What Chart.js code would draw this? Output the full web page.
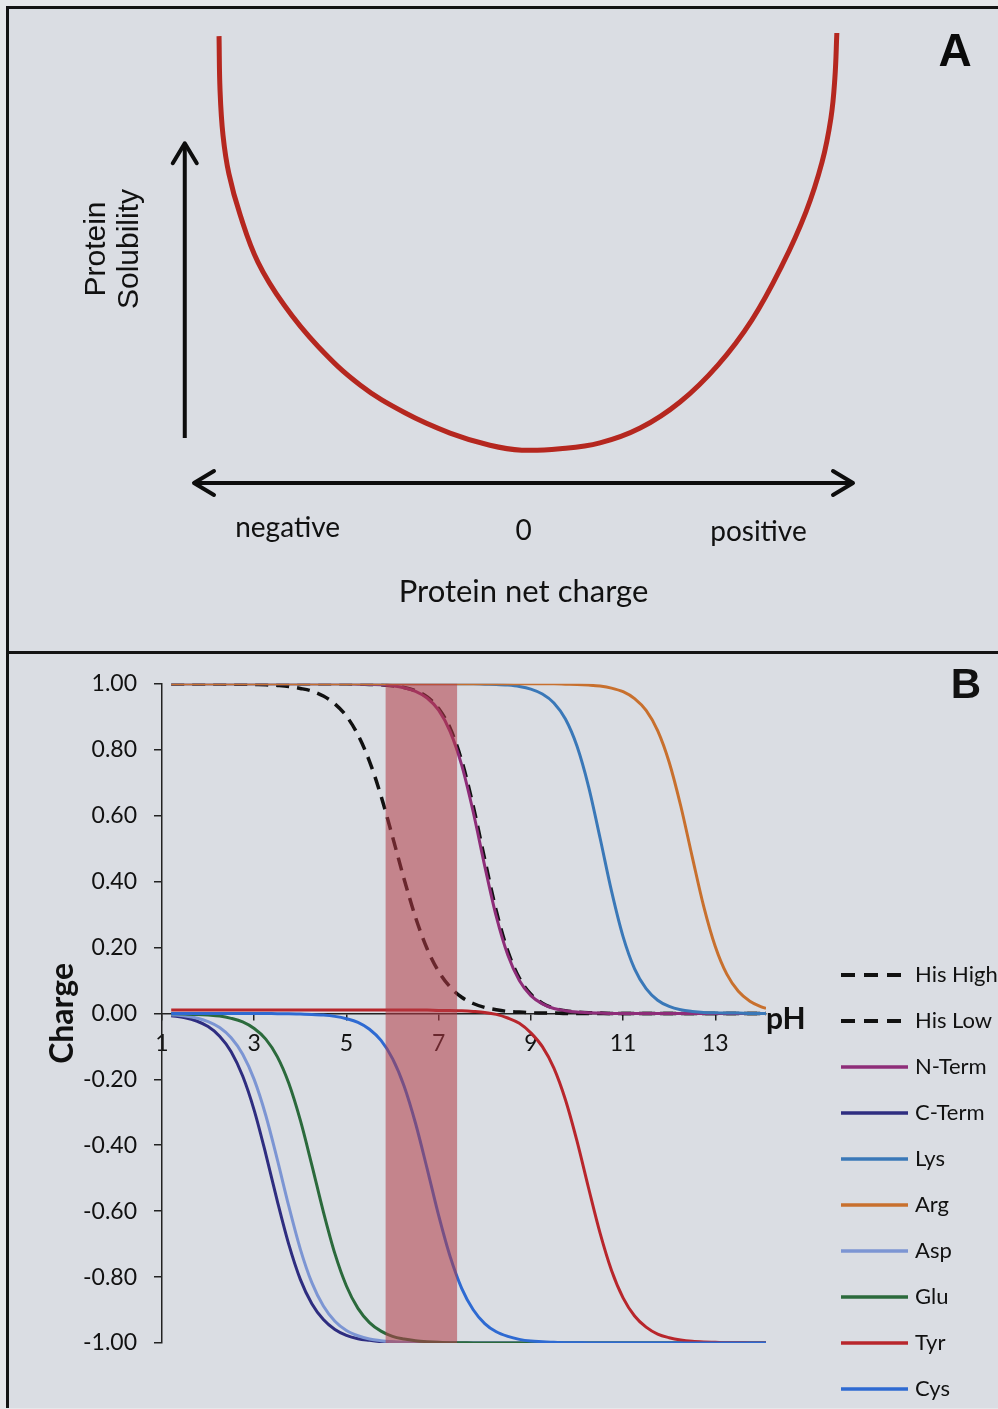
<!DOCTYPE html>
<html>
<head>
<meta charset="utf-8">
<script src="https://cdn.jsdelivr.net/npm/chart.js@4.4.1/dist/chart.umd.min.js"></script>
<style>
  html, body { margin: 0; padding: 0; background: #e6e7ea; }
  #page { position: relative; width: 998px; height: 1409px; overflow: hidden; }
  #frame { position: absolute; left: 6px; top: 6px; width: 1000px; height: 1399px; background: #dadde3;
           border-left: 3px solid #141414; border-top: 3px solid #141414; }
  #divider { position: absolute; left: 6px; top: 651px; width: 1000px; height: 3px; background: #141414; }
  canvas { position: absolute; left: 0; }
  #chartA { top: 0; width: 998px; height: 650px; }
  #chartB { top: 653px; width: 998px; height: 756px; }
</style>
</head>
<body>
<div id="page">
  <div id="frame"></div>
  <div id="divider"></div>
  <canvas id="chartA" width="998" height="650"></canvas>
  <canvas id="chartB" width="998" height="756"></canvas>
</div>
<script>
// ---- panel A: solubility vs net charge (schematic U curve)
const uCharge = [-0.924, -0.921, -0.912, -0.894, -0.860, -0.806, -0.727, -0.624, -0.496, -0.360, -0.223, -0.102, -0.005,
                 0.111, 0.232, 0.354, 0.475, 0.590, 0.693, 0.785, 0.857, 0.906, 0.933, 0.945, 0.951];
const uSolubility = [9.93, 8.73, 7.73, 6.87, 5.96, 4.91, 3.96, 3.04, 2.18, 1.56, 1.11, 0.84, 0.73,
                     0.76, 0.89, 1.22, 1.80, 2.62, 3.62, 4.84, 6.02, 7.13, 8.11, 9.00, 10.0];

// ---- panel B: charge of ionisable groups vs pH
const pH = [1.2, 1.5, 1.75, 2, 2.25, 2.5, 2.75, 3, 3.25, 3.5, 3.75, 4, 4.25, 4.5, 4.75, 5, 5.25, 5.5, 5.75, 6, 6.25, 6.5, 6.75,
            7, 7.25, 7.5, 7.75, 8, 8.25, 8.5, 8.75, 9, 9.25, 9.5, 9.75, 10, 10.25, 10.5, 10.75, 11, 11.25, 11.5, 11.75,
            12, 12.25, 12.5, 12.75, 13, 13.25, 13.5, 13.75, 14, 14.1];
const hisHigh = [1, 1, 1, 1, 1, 1, 1, 1, 1, 1, 1, 1, 1, 1, 1, 1, 0.999,
                 0.998, 0.997, 0.994, 0.989, 0.979, 0.960, 0.925, 0.865, 0.767, 0.629, 0.467, 0.311, 0.189, 0.107, 0.058, 0.031, 0.016, 0.008, 0.004, 0.002, 0.001,
                 0, 0, 0, 0, 0, 0, 0, 0, 0, 0, 0, 0, 0, 0, 0];
const hisLow  = [1, 1, 1, 1, 1, 0.999, 0.999,
                 0.998, 0.997, 0.995, 0.992, 0.986, 0.978, 0.963, 0.939, 0.902, 0.845, 0.765, 0.660, 0.536, 0.408, 0.291, 0.196, 0.127, 0.080, 0.049, 0.030, 0.018, 0.011, 0.006, 0.004, 0.002, 0.001, 0.001,
                 0, 0, 0, 0, 0, 0, 0, 0, 0, 0, 0, 0, 0, 0, 0, 0, 0, 0, 0];
const nTerm   = [1, 1, 1, 1, 1, 1, 1, 1, 1, 1, 1, 1, 1, 1, 1, 1, 0.999,
                 0.998, 0.997, 0.994, 0.988, 0.977, 0.957, 0.920, 0.855, 0.753, 0.611, 0.447, 0.294, 0.177, 0.100, 0.054, 0.029, 0.015, 0.008, 0.004, 0.002, 0.001,
                 0, 0, 0, 0, 0, 0, 0, 0, 0, 0, 0, 0, 0, 0, 0];
const cTerm   = [-0.007, -0.013, -0.023, -0.040, -0.069, -0.116, -0.190, -0.294, -0.426, -0.569, -0.701, -0.807, -0.881, -0.929, -0.959, -0.977, -0.987, -0.992, -0.996, -0.998, -0.999, -0.999,
                 -1, -1, -1, -1, -1, -1, -1, -1, -1, -1, -1, -1, -1, -1, -1, -1, -1, -1, -1, -1, -1, -1, -1, -1, -1, -1, -1, -1, -1, -1, -1];
const lys     = [1, 1, 1, 1, 1, 1, 1, 1, 1, 1, 1, 1, 1, 1, 1, 1, 1, 1, 1, 1, 1, 1, 1, 1, 1, 1, 1,
                 0.999, 0.998, 0.996, 0.992, 0.984, 0.969, 0.942, 0.893, 0.811, 0.689, 0.533, 0.371, 0.233, 0.135, 0.075, 0.040, 0.021, 0.011, 0.006, 0.003, 0.002, 0.001, 0.001,
                 0, 0, 0];
const arg     = [1, 1, 1, 1, 1, 1, 1, 1, 1, 1, 1, 1, 1, 1, 1, 1, 1, 1, 1, 1, 1, 1, 1, 1, 1, 1, 1, 1, 1, 1, 1, 1, 1, 1,
                 0.999, 0.998, 0.996, 0.993, 0.987, 0.976, 0.955, 0.919, 0.858, 0.762, 0.630, 0.475, 0.324, 0.203, 0.119, 0.067, 0.037, 0.020, 0.015];
const asp     = [-0.004, -0.008, -0.014, -0.025, -0.043, -0.074, -0.124, -0.201, -0.309, -0.443, -0.585, -0.715, -0.817, -0.888, -0.934, -0.962, -0.978, -0.988, -0.993, -0.996, -0.998, -0.999,
                 -1, -1, -1, -1, -1, -1, -1, -1, -1, -1, -1, -1, -1, -1, -1, -1, -1, -1, -1, -1, -1, -1, -1, -1, -1, -1, -1, -1, -1, -1, -1];
const glu     = [-0.001, -0.002, -0.003, -0.005, -0.008, -0.015, -0.026, -0.046, -0.078, -0.131, -0.212, -0.324, -0.460, -0.602, -0.729, -0.827, -0.895, -0.938, -0.964, -0.980, -0.988, -0.993, -0.996, -0.998, -0.999, -0.999,
                 -1, -1, -1, -1, -1, -1, -1, -1, -1, -1, -1, -1, -1, -1, -1, -1, -1, -1, -1, -1, -1, -1, -1, -1, -1, -1, -1];
const tyr     = [0.01, 0.01, 0.01, 0.01, 0.01, 0.01, 0.01, 0.01, 0.01, 0.01, 0.01, 0.01, 0.01, 0.01, 0.01, 0.01, 0.01, 0.01, 0.01, 0.01, 0.01, 0.01, 0.01,
                 0.009, 0.009, 0.008, 0.006, 0.003, -0.003, -0.014, -0.030, -0.059, -0.101, -0.166, -0.262, -0.387, -0.529, -0.666, -0.780, -0.863, -0.918, -0.952, -0.973, -0.984, -0.991, -0.995, -0.997, -0.998, -0.999, -0.999,
                 -1, -1, -1];
const cys     = [0, 0, 0, 0, 0, 0, 0,
                 0, 0, -0.001, -0.001, -0.002, -0.003, -0.005, -0.009, -0.016, -0.027, -0.048, -0.082, -0.137, -0.220, -0.334, -0.471, -0.613, -0.738, -0.834, -0.899, -0.941, -0.966, -0.980, -0.989, -0.994, -0.996, -0.998, -0.999, -0.999,
                 -1, -1, -1, -1, -1, -1, -1, -1, -1, -1, -1, -1, -1, -1, -1, -1, -1];
const seriesNames = ["His High", "His Low", "N-Term", "C-Term", "Lys", "Arg", "Asp", "Glu", "Tyr", "Cys"];
const seriesValues = [hisHigh, hisLow, nTerm, cTerm, lys, arg, asp, glu, tyr, cys];
const xTicks = [1, 3, 5, 7, 9, 11, 13];
const yTicks = [-1, -0.8, -0.6, -0.4, -0.2, 0, 0.2, 0.4, 0.6, 0.8, 1];
const bandRange = [5.85, 7.4];

const styles = {
  "His High": { color: "#111111", dash: [13, 8], width: 3.5 },
  "His Low":  { color: "#111111", dash: [13, 8], width: 3.5 },
  "N-Term":   { color: "#8e2d79" },
  "C-Term":   { color: "#2e2d80" },
  "Lys":      { color: "#3a78b8" },
  "Arg":      { color: "#c8702e" },
  "Asp":      { color: "#7c95d3" },
  "Glu":      { color: "#2b6a3c" },
  "Tyr":      { color: "#b8262c" },
  "Cys":      { color: "#2e6ad2" }
};

Chart.defaults.font.family = "Lato";
Chart.defaults.color = "#111";

function chevron(ctx, tx, ty, dx, dy) {
  const back = 20, half = 12;
  ctx.beginPath();
  ctx.moveTo(tx - dx * back - dy * half, ty - dy * back + dx * half);
  ctx.lineTo(tx, ty);
  ctx.lineTo(tx - dx * back + dy * half, ty - dy * back - dx * half);
  ctx.stroke();
}

const panelA = {
  id: "panelA",
  afterDatasetsDraw(chart) {
    const { ctx, scales: { x, y } } = chart;
    ctx.save();
    ctx.strokeStyle = "#0d0d0d";
    ctx.lineWidth = 4;
    ctx.lineCap = "round";
    ctx.lineJoin = "round";
    // net charge double arrow
    const hy = y.getPixelForValue(0);
    const hx0 = x.getPixelForValue(-1), hx1 = x.getPixelForValue(1);
    ctx.beginPath(); ctx.moveTo(hx0 + 2, hy); ctx.lineTo(hx1 - 2, hy); ctx.stroke();
    chevron(ctx, hx0, hy, -1, 0);
    chevron(ctx, hx1, hy, 1, 0);
    // solubility arrow
    const vx = x.getPixelForValue(-1.028);
    const vy0 = y.getPixelForValue(1.0), vy1 = y.getPixelForValue(7.55);
    ctx.lineCap = "butt";
    ctx.beginPath(); ctx.moveTo(vx, vy0); ctx.lineTo(vx, vy1 + 2); ctx.stroke();
    ctx.lineCap = "round";
    chevron(ctx, vx, vy1, 0, -1);

    ctx.fillStyle = "#111";
    ctx.textAlign = "center";
    ctx.textBaseline = "middle";
    ctx.font = "28px Lato";
    ctx.fillText("negative", x.getPixelForValue(-0.716), hy + 45);
    ctx.fillText("0", x.getPixelForValue(0), hy + 48);
    ctx.fillText("positive", x.getPixelForValue(0.713), hy + 49);
    ctx.font = "31px Lato";
    ctx.fillText("Protein net charge", x.getPixelForValue(0), hy + 109);

    ctx.font = "30px 'Liberation Sans'";
    ctx.textBaseline = "alphabetic";
    ctx.translate(105, 249);
    ctx.rotate(-Math.PI / 2);
    ctx.fillText("Protein", 0, 0);
    ctx.fillText("Solubility", 0, 33);
    ctx.restore();

    ctx.save();
    ctx.fillStyle = "#0a0a0a";
    ctx.font = "bold 46px 'Liberation Sans'";
    ctx.textAlign = "center";
    ctx.fillText("A", 955, 66);
    ctx.restore();
  }
};

new Chart(document.getElementById("chartA"), {
  type: "scatter",
  data: {
    datasets: [{
      data: uCharge.map((c, i) => ({ x: c, y: uSolubility[i] })),
      showLine: true,
      borderColor: "#b5271f",
      borderWidth: 5,
      pointRadius: 0,
      tension: 0.4,
      clip: false
    }]
  },
  options: {
    responsive: false,
    animation: false,
    layout: { padding: { left: 194, right: 145, top: 33, bottom: 167 } },
    scales: {
      x: { type: "linear", min: -1, max: 1, display: false },
      y: { type: "linear", min: 0, max: 10, display: false }
    },
    plugins: { legend: { display: false }, tooltip: { enabled: false } }
  },
  plugins: [panelA]
});

const panelB = {
  id: "panelB",
  afterDatasetsDraw(chart) {
    const { ctx, scales: { x, y } } = chart;
    const x0 = x.getPixelForValue(bandRange[0]), x1 = x.getPixelForValue(bandRange[1]);
    const yTop = y.getPixelForValue(1), yBot = y.getPixelForValue(-1);
    ctx.save();
    ctx.fillStyle = "rgba(178, 58, 70, 0.55)";
    ctx.fillRect(x0, yTop, x1 - x0, yBot - yTop);
    ctx.restore();
  },
  afterDraw(chart) {
    const { ctx, scales: { x, y } } = chart;
    ctx.save();
    ctx.fillStyle = "#111";
    // axis titles
    ctx.font = "bold 30px Lato";
    ctx.textAlign = "left";
    ctx.textBaseline = "middle";
    ctx.fillText("pH", x.right, y.getPixelForValue(0) + 6);
    ctx.save();
    ctx.font = "bold 32px Lato";
    ctx.textAlign = "center";
    ctx.textBaseline = "alphabetic";
    ctx.translate(73, y.getPixelForValue(0));
    ctx.rotate(-Math.PI / 2);
    ctx.fillText("Charge", 0, 0);
    ctx.restore();

    // legend
    const lx0 = 841, lx1 = 908, top = 322, step = 46;
    ctx.font = "22px Lato";
    ctx.textBaseline = "middle";
    chart.data.datasets.forEach((ds, i) => {
      const ly = top + i * step;
      const dashed = ds.borderDash && ds.borderDash.length;
      ctx.save();
      ctx.strokeStyle = ds.borderColor;
      ctx.lineWidth = dashed ? 4 : 3.5;
      ctx.setLineDash(dashed ? [14, 9] : []);
      ctx.beginPath(); ctx.moveTo(lx0, ly); ctx.lineTo(lx1, ly); ctx.stroke();
      ctx.restore();
      ctx.fillText(ds.label, lx1 + 7, ly);
    });

    ctx.font = "bold 42px 'Liberation Sans'";
    ctx.textAlign = "center";
    ctx.textBaseline = "alphabetic";
    ctx.fillText("B", 966, 45);
    ctx.restore();
  }
};

new Chart(document.getElementById("chartB"), {
  type: "scatter",
  data: {
    datasets: seriesNames.map((name, i) => ({
      label: name,
      data: pH.map((p, j) => ({ x: p, y: seriesValues[i][j] })),
      showLine: true,
      borderColor: styles[name].color,
      borderDash: styles[name].dash || [],
      borderWidth: styles[name].width || 3,
      pointRadius: 0,
      cubicInterpolationMode: "monotone",
      order: seriesNames.length - i
    }))
  },
  options: {
    responsive: false,
    animation: false,
    layout: { padding: { left: 0, right: 232, top: 26, bottom: 66 } },
    scales: {
      x: {
        type: "linear", min: 1, max: 14.1, position: { y: 0 },
        afterBuildTicks: s => { s.ticks = xTicks.map(v => ({ value: v })); },
        grid: { drawOnChartArea: false, tickLength: 6, color: "#222", lineWidth: 1.5 },
        border: { display: true, color: "#222", width: 1.5 },
        ticks: { font: { size: 23 }, color: "#111", padding: 10, maxRotation: 0, autoSkip: false }
      },
      y: {
        type: "linear", min: -1, max: 1,
        afterBuildTicks: s => { s.ticks = yTicks.map(v => ({ value: v })); },
        afterFit: s => { s.width = 162; },
        grid: { drawOnChartArea: false, tickLength: 8, color: "#222", lineWidth: 1.5 },
        border: { display: true, color: "#222", width: 1.5 },
        ticks: {
          font: { size: 23 }, color: "#111", padding: 17, autoSkip: false,
          callback: v => (Math.abs(v) < 1e-9 ? 0 : v).toFixed(2)
        }
      }
    },
    plugins: { legend: { display: false }, tooltip: { enabled: false } }
  },
  plugins: [panelB]
});
</script>
</body>
</html>
